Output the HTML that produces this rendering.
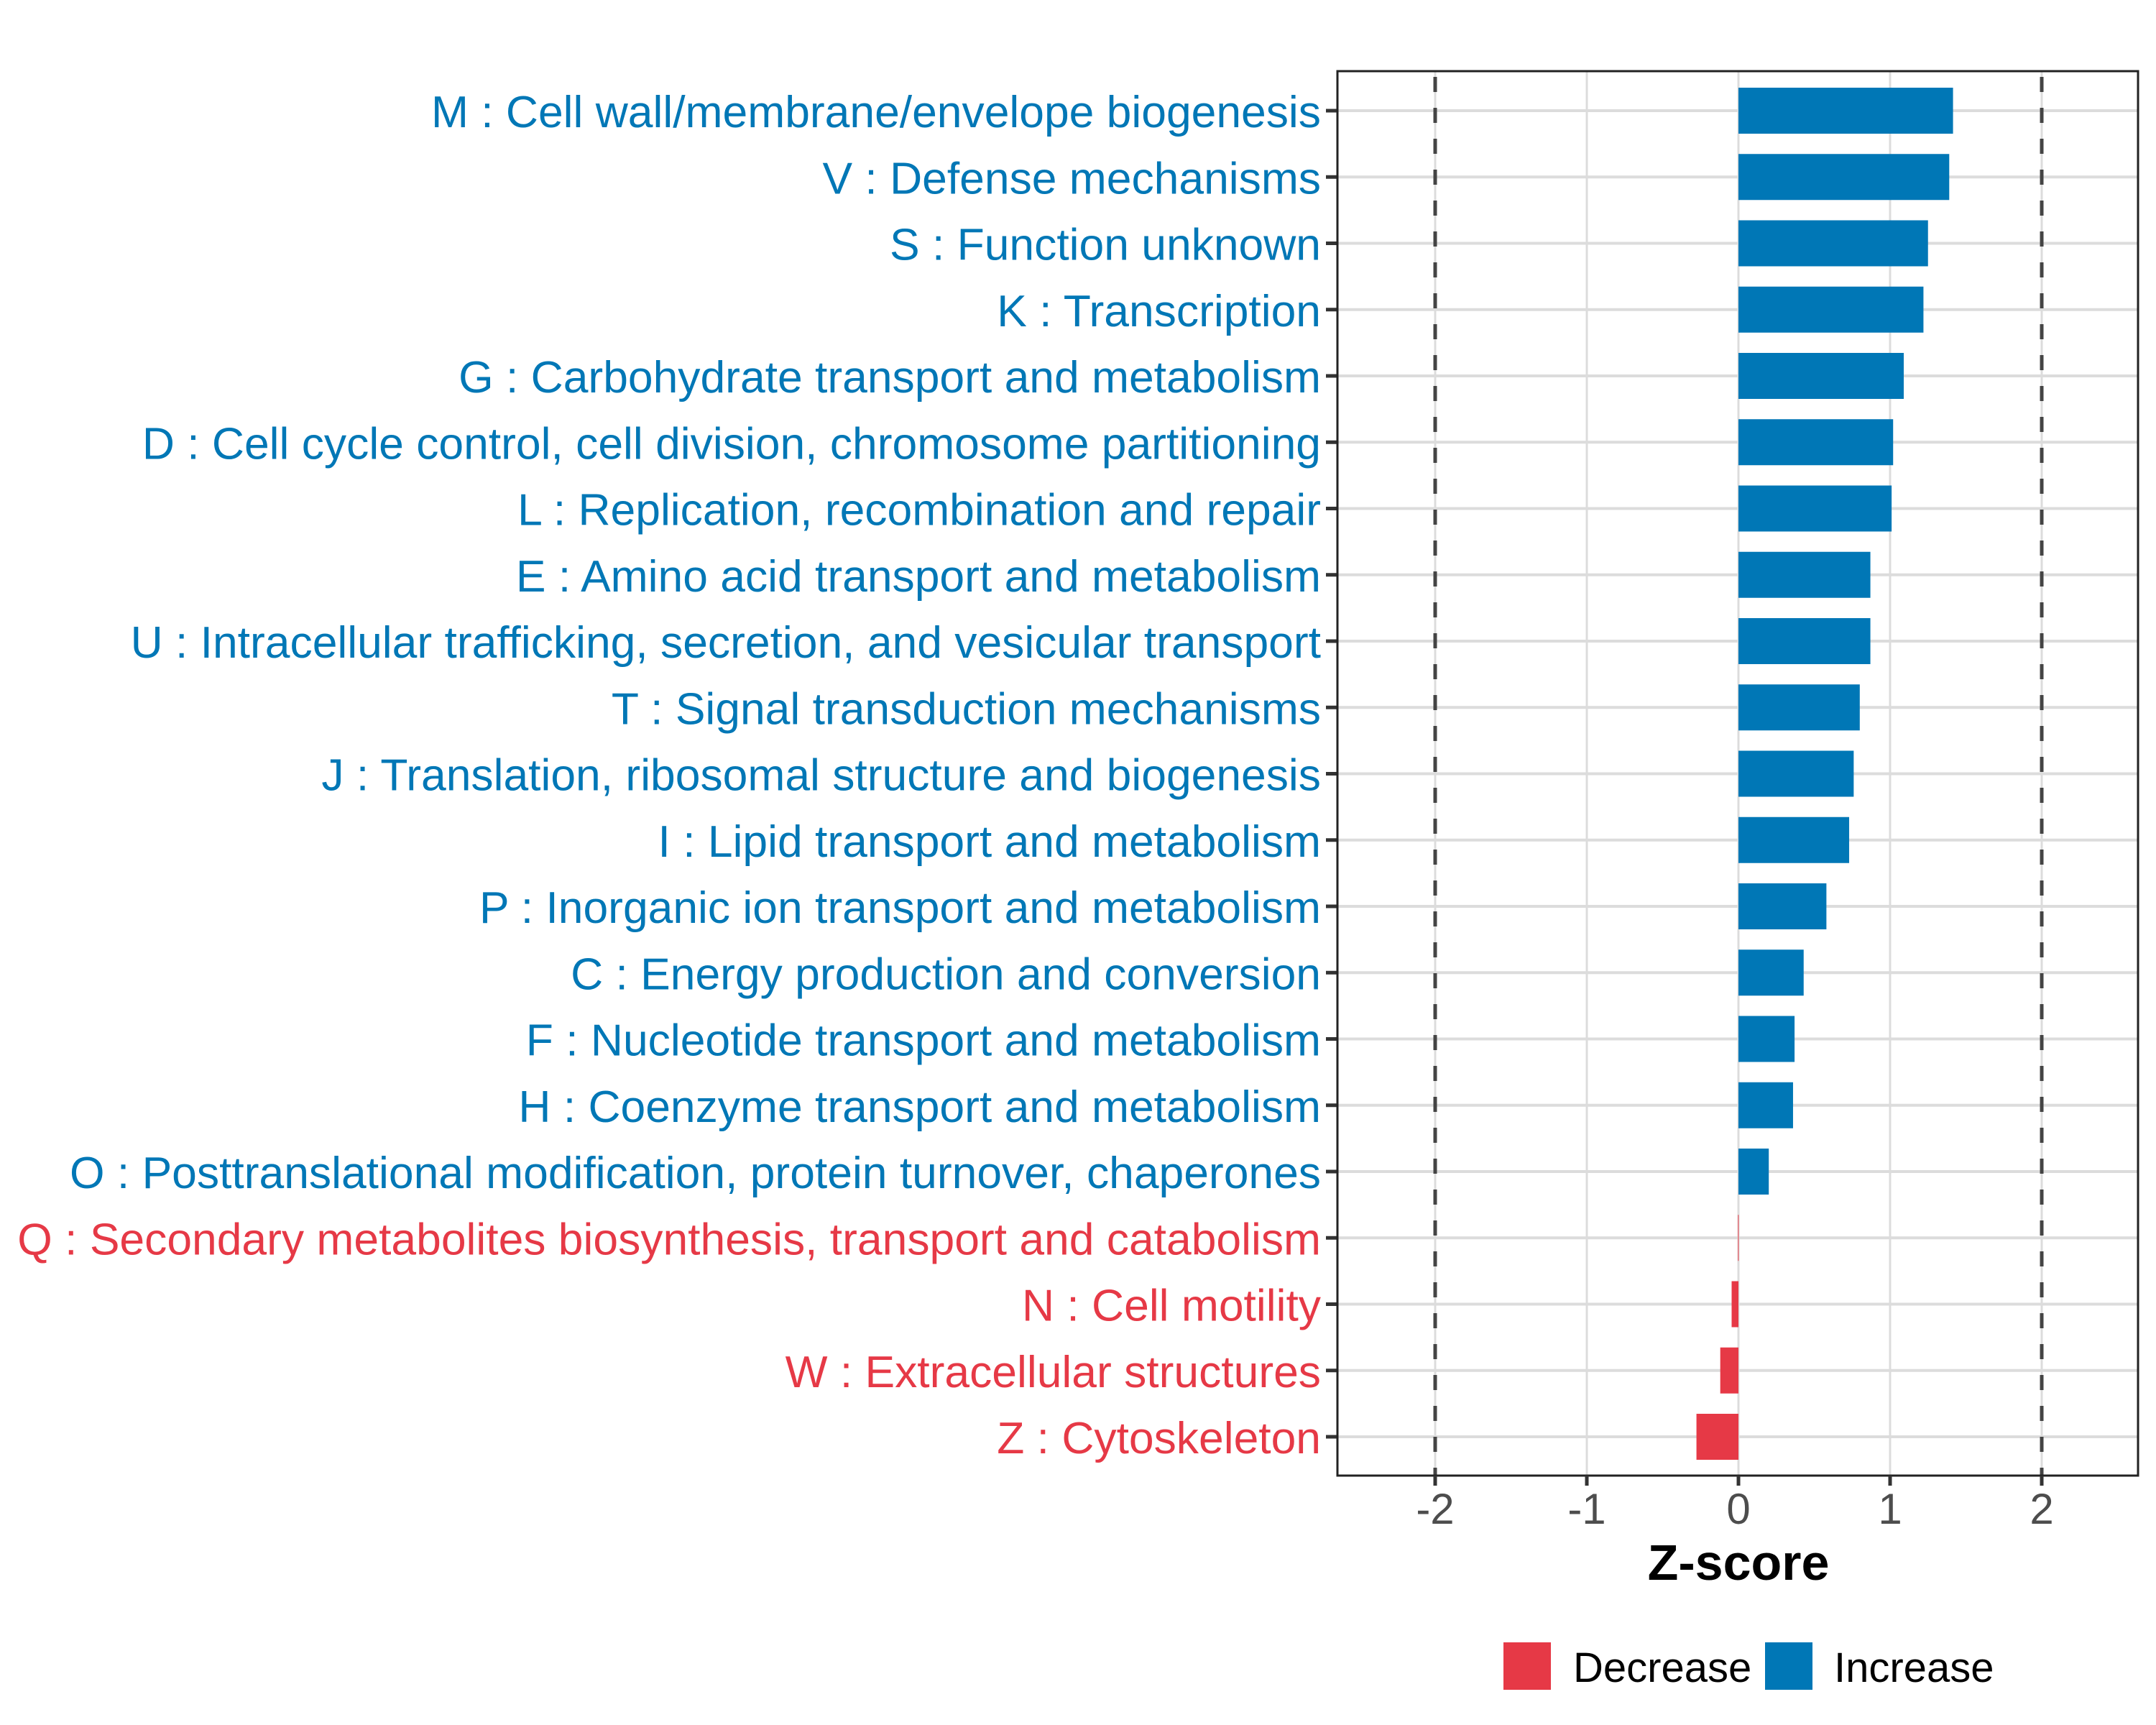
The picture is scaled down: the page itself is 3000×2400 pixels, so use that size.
<!DOCTYPE html>
<html><head><meta charset="utf-8"><style>
html,body{margin:0;padding:0;background:#fff;}
svg{display:block;font-family:"Liberation Sans",Arial,sans-serif;}
</style></head><body>
<svg id="chart" width="3000" height="2400" viewBox="0 0 3000 2400" xmlns="http://www.w3.org/2000/svg">
<rect x="0" y="0" width="3000" height="2400" fill="#fff"/>
<g id="grid"></g>
<g id="bars"></g>
<g id="ylabels"></g>
<g id="xaxis"></g>
</svg>
<script>
const categories = ["M : Cell wall/membrane/envelope biogenesis","V : Defense mechanisms","S : Function unknown","K : Transcription","G : Carbohydrate transport and metabolism","D : Cell cycle control, cell division, chromosome partitioning","L : Replication, recombination and repair","E : Amino acid transport and metabolism","U : Intracellular trafficking, secretion, and vesicular transport","T : Signal transduction mechanisms","J : Translation, ribosomal structure and biogenesis","I : Lipid transport and metabolism","P : Inorganic ion transport and metabolism","C : Energy production and conversion","F : Nucleotide transport and metabolism","H : Coenzyme transport and metabolism","O : Posttranslational modification, protein turnover, chaperones","Q : Secondary metabolites biosynthesis, transport and catabolism","N : Cell motility","W : Extracellular structures","Z : Cytoskeleton"];
const zscores = [1.415,1.39,1.25,1.22,1.09,1.02,1.01,0.87,0.87,0.80,0.76,0.73,0.58,0.43,0.37,0.36,0.20,-0.003,-0.045,-0.12,-0.277];
const xTicks = [-2,-1,0,1,2];
const xTickLabels = ["-2","-1","0","1","2"];
const thresholds = [-2,2];
const legendLabels = ["Decrease","Increase"];

const NS="http://www.w3.org/2000/svg";
const P={l:1861,r:2975,t:99,b:2053};
const X0=2419, UNIT=211;
const xs=v=>X0+v*UNIT;
const y0=154, step=92.25;
const ys=i=>y0+i*step;
const BLUE="#0077b6", RED="#e63946";
function mk(tag,attrs,parent,text){const e=document.createElementNS(NS,tag);for(const k in attrs)e.setAttribute(k,attrs[k]);if(text!==undefined)e.textContent=text;parent.appendChild(e);return e;}
const svg=document.getElementById('chart');
const grid=document.getElementById('grid'),bars=document.getElementById('bars'),yl=document.getElementById('ylabels'),xa=document.getElementById('xaxis');
xTicks.forEach((t,i)=>{
 const g=mk('line',{x1:xs(t),x2:xs(t),y1:P.t,y2:P.b,stroke:"#dcdcdc","stroke-width":3},grid);
 
 
});
categories.forEach((c,i)=>{
 const g=mk('line',{x1:P.l,x2:P.r,y1:ys(i),y2:ys(i),stroke:"#dcdcdc","stroke-width":4},grid);
 
 
});
thresholds.forEach(t=>{
 const d=mk('line',{x1:xs(t),x2:xs(t),y1:P.t,y2:P.b,stroke:"#444","stroke-width":5,"stroke-dasharray":"21,22","stroke-dashoffset":"-8"},grid);
 
 
});
const bh=64;
categories.forEach((c,i)=>{
 const v=zscores[i], col=v<0?RED:BLUE;
 const x1=Math.min(xs(0),xs(v)), w=Math.max(Math.abs(xs(v)-xs(0)),v<0?1:0);
 const r=mk('rect',{x:x1,y:ys(i)-bh/2,width:w,height:bh,fill:col},bars);
 
 
 const tk=mk('line',{x1:P.l-16,x2:P.l,y1:ys(i),y2:ys(i),stroke:"#333","stroke-width":5},yl);
 
 
 const t=mk('text',{x:1838,y:ys(i)+23,"text-anchor":"end","font-size":62.4,fill:col},yl,c);
 
 
});
const frame=mk('rect',{x:P.l,y:P.t,width:P.r-P.l,height:P.b-P.t,fill:"none",stroke:"#222","stroke-width":3},xa);


xTicks.forEach((t,i)=>{
 const tk=mk('line',{x1:xs(t),x2:xs(t),y1:P.b,y2:P.b+14,stroke:"#333","stroke-width":5},xa);
 
 
 const tl=mk('text',{x:xs(t),y:2120,"text-anchor":"middle","font-size":60,fill:"#4d4d4d"},xa,xTickLabels[i]);
 
 
});
const title=mk('text',{x:xs(0),y:2198,"text-anchor":"middle","font-size":70,"font-weight":"bold",fill:"#000"},xa,"Z-score");


const lg=mk('g',{},svg);


const lx=[2092,2456], tx=[2189,2552], lc=[RED,BLUE];
legendLabels.forEach((l,i)=>{
 const s=mk('rect',{x:lx[i],y:2285,width:66,height:66,fill:lc[i]},lg);
 
 
 const t=mk('text',{x:tx[i],y:2340,"font-size":58,fill:"#000"},lg,l);
 
 
});
</script>
</body></html>
